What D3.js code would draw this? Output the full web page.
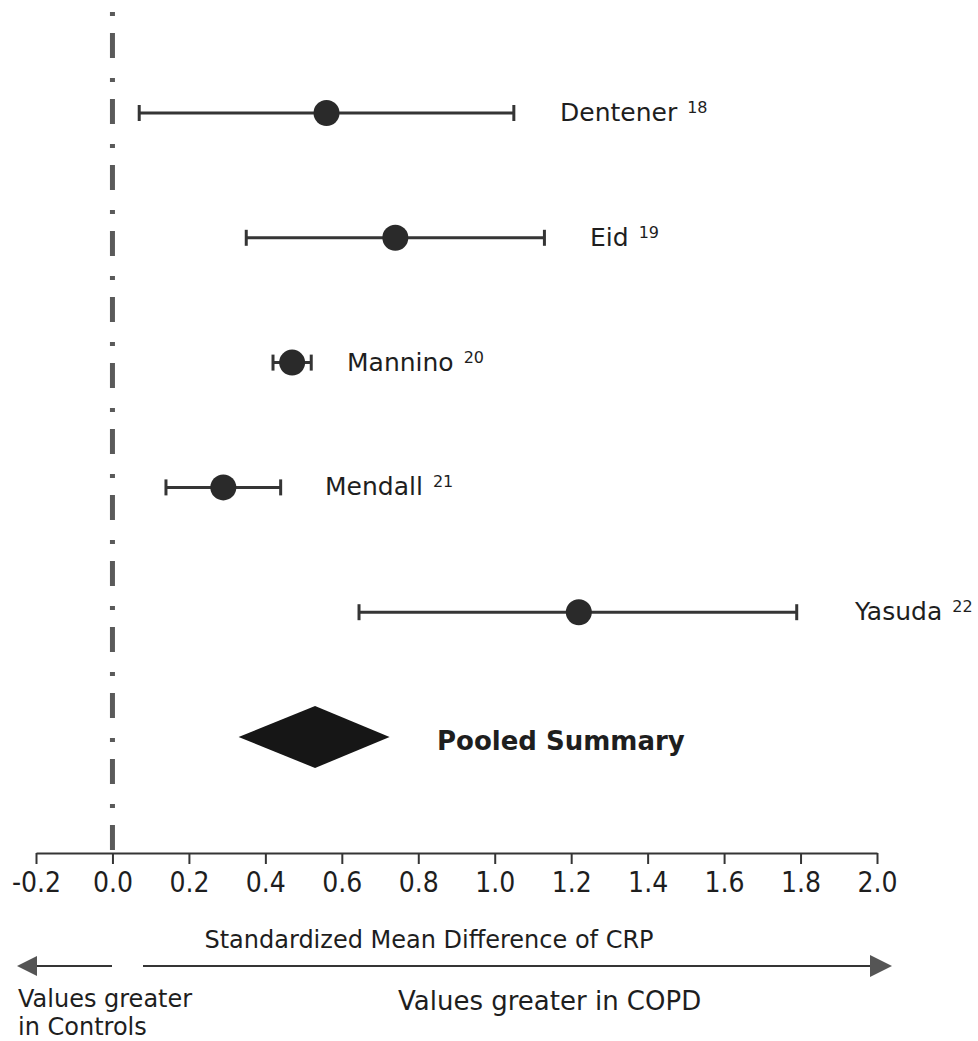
<!DOCTYPE html>
<html>
<head>
<meta charset="utf-8">
<script src="https://cdn.jsdelivr.net/npm/d3@7"></script>
<style>
  html, body { margin: 0; padding: 0; background: #fff; }
  svg { display: block; }
  text { font-family: "DejaVu Sans", sans-serif; fill: #1e1e1e; }
</style>
</head>
<body>
<svg id="chart" width="978" height="1041"></svg>
<script>
// Studies, in order from top to bottom
const studies = ["Dentener", "Eid", "Mannino", "Mendall", "Yasuda"];
const refs = ["18", "19", "20", "21", "22"];
// Standardized mean difference of CRP with its confidence interval
const smd = [0.56, 0.74, 0.47, 0.29, 1.22];
const ciLow = [0.07, 0.35, 0.42, 0.14, 0.645];
const ciHigh = [1.05, 1.13, 0.52, 0.44, 1.79];
// Pooled estimate
const pooled = { label: "Pooled Summary", est: 0.53, low: 0.33, high: 0.725 };
// Axis ticks
const tickValues = [-0.2, 0, 0.2, 0.4, 0.6, 0.8, 1.0, 1.2, 1.4, 1.6, 1.8, 2.0];

const svg = d3.select("#chart");
const x = d3.scaleLinear().domain([-0.2, 2.0]).range([36, 877]);
const rowY = d3.scalePoint().domain([...studies, pooled.label]).range([113, 737]);

const axisY = 853;
const ink = "#353535";

// Dash-dot reference line at zero
svg.append("line")
  .attr("x1", x(0)).attr("x2", x(0))
  .attr("y1", 0).attr("y2", axisY)
  .attr("stroke", "#5a5a5a").attr("stroke-width", 5)
  .attr("stroke-dasharray", "4 17 25 20")
  .attr("stroke-dashoffset", 54);

// Where each study label starts (pixels)
const labelX = [560, 590, 347, 325, 855];

const rows = studies.map((s, i) => ({ s, ref: refs[i], m: smd[i], lo: ciLow[i], hi: ciHigh[i], lx: labelX[i] }));

const g = svg.append("g").selectAll("g").data(rows).join("g")
  .attr("transform", d => `translate(0,${rowY(d.s)})`);

g.append("line")
  .attr("x1", d => x(d.lo)).attr("x2", d => x(d.hi))
  .attr("stroke", ink).attr("stroke-width", 3);
g.append("line")
  .attr("x1", d => x(d.lo)).attr("x2", d => x(d.lo))
  .attr("y1", -8).attr("y2", 8)
  .attr("stroke", ink).attr("stroke-width", 3);
g.append("line")
  .attr("x1", d => x(d.hi)).attr("x2", d => x(d.hi))
  .attr("y1", -8).attr("y2", 8)
  .attr("stroke", ink).attr("stroke-width", 3);
g.append("circle")
  .attr("cx", d => x(d.m)).attr("r", 13)
  .attr("fill", "#2a2a2a");

const lbl = g.append("text")
  .attr("x", d => d.lx).attr("y", 8)
  .attr("font-size", 25);
lbl.append("tspan").text(d => d.s);
lbl.append("tspan").text(d => d.ref)
  .attr("font-size", 16).attr("dx", 10).attr("dy", -8);

// Pooled diamond
const py = rowY(pooled.label);
svg.append("path")
  .attr("d", `M${x(pooled.low)},${py} L${x(pooled.est)},${py - 31} L${x(pooled.high)},${py} L${x(pooled.est)},${py + 31} Z`)
  .attr("fill", "#161616");
svg.append("text")
  .attr("x", 437).attr("y", py + 13)
  .attr("font-size", 26).attr("font-weight", "bold")
  .attr("fill", "#222")
  .text(pooled.label);

// X axis
const axis = svg.append("g")
  .attr("transform", `translate(0,${axisY})`)
  .call(d3.axisBottom(x).tickValues(tickValues).tickSize(11).tickPadding(8)
    .tickFormat(d => d3.format(".1f")(d).replace("\u2212", "-")).tickSizeOuter(0));
axis.select(".domain").attr("stroke", ink).attr("stroke-width", 2);
axis.selectAll(".tick line").attr("stroke", ink).attr("stroke-width", 2);
axis.selectAll(".tick text")
  .attr("font-size", 28).attr("fill", "#1e1e1e")
  .style("font-family", "\"DejaVu Sans Condensed\", \"DejaVu Sans\", sans-serif");

svg.append("text")
  .attr("x", 429).attr("y", 948)
  .attr("text-anchor", "middle").attr("font-size", 24)
  .text("Standardized Mean Difference of CRP");

// Direction arrows
const arrowY = 966;
svg.append("line").attr("x1", 30).attr("x2", 112).attr("y1", arrowY).attr("y2", arrowY)
  .attr("stroke", ink).attr("stroke-width", 2);
svg.append("path").attr("d", `M17,${arrowY} L37,${arrowY - 10} L37,${arrowY + 10} Z`).attr("fill", "#555");
svg.append("line").attr("x1", 143).attr("x2", 875).attr("y1", arrowY).attr("y2", arrowY)
  .attr("stroke", ink).attr("stroke-width", 2);
svg.append("path").attr("d", `M892,${arrowY} L870,${arrowY - 11} L870,${arrowY + 11} Z`).attr("fill", "#555");

const left = svg.append("text").attr("x", 18).attr("y", 1007).attr("font-size", 24);
left.append("tspan").attr("x", 18).text("Values greater");
left.append("tspan").attr("x", 18).attr("dy", 28).text("in Controls");
svg.append("text").attr("x", 398).attr("y", 1010).attr("font-size", 26).text("Values greater in COPD");
</script>
</body>
</html>
